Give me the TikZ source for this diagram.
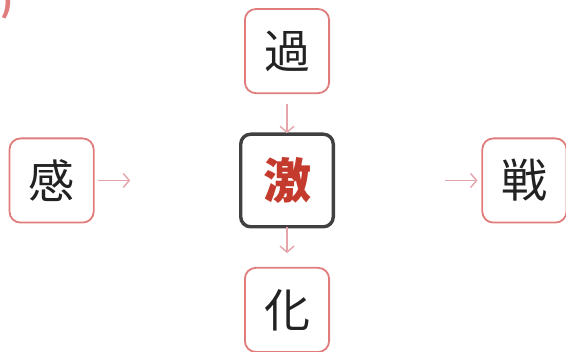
\documentclass[tikz,border=0pt]{standalone}
\usepackage{fontspec}
\newfontfamily\cjk{Noto Sans CJK JP}
\usetikzlibrary{arrows.meta,positioning}

\definecolor{boxpink}{RGB}{224,124,124}
\definecolor{arrowpink}{RGB}{228,164,170}
\definecolor{kanjired}{RGB}{196,58,44}
\definecolor{centergray}{RGB}{64,64,64}
\definecolor{kanjiink}{RGB}{34,34,34}

\begin{document}
\begin{tikzpicture}[x=1pt, y=-1pt, node distance=41pt,
            every node/.style={outer sep=0pt},
            kanjibox/.style={draw=boxpink, line width=1.8pt, rounded corners=11pt,
                             minimum size=84.2pt, inner sep=0pt, text=kanjiink,
                             font=\cjk\fontsize{46}{46}\selectfont},
            centerbox/.style={draw=centergray, line width=3.4pt, rounded corners=10pt,
                              minimum size=92.6pt, inner sep=0pt, text=kanjired,
                              font=\cjk\bfseries\fontsize{48}{48}\selectfont},
            every path/.style={line width=1.4pt},
            link/.style={draw=arrowpink, -{Straight Barb[length=6pt,width=14pt]}}]
        \useasboundingbox (0,0) rectangle (566,352);
        % clipped label in the corner
        \node[anchor=south east, inner sep=0pt, text=boxpink,
              font=\cjk\bfseries\fontsize{32}{32}\selectfont] (corner) at (13,19) {)};
        % boxes
        \node[centerbox] (geki) at (287,180.5) {激};
        \node[kanjibox, above=of geki] (ka) {過};
        \node[kanjibox, below=of geki] (kaz) {化};
        \node[kanjibox, left=147pt of geki] (kan) {感};
        \node[kanjibox, right=149pt of geki] (sen) {戦};
        % arrows
        \draw[link, shorten <=11pt, shorten >=1pt] (ka) -- (geki);
        \draw[link, shorten >=14.75pt] (geki) -- (kaz);
        \draw[link, shorten <=4.75pt, shorten >=110.5pt] (kan) -- (geki);
        \draw[link, shorten <=111.5pt, shorten >=4.75pt] (geki) -- (sen);
\end{tikzpicture}
\end{document}
